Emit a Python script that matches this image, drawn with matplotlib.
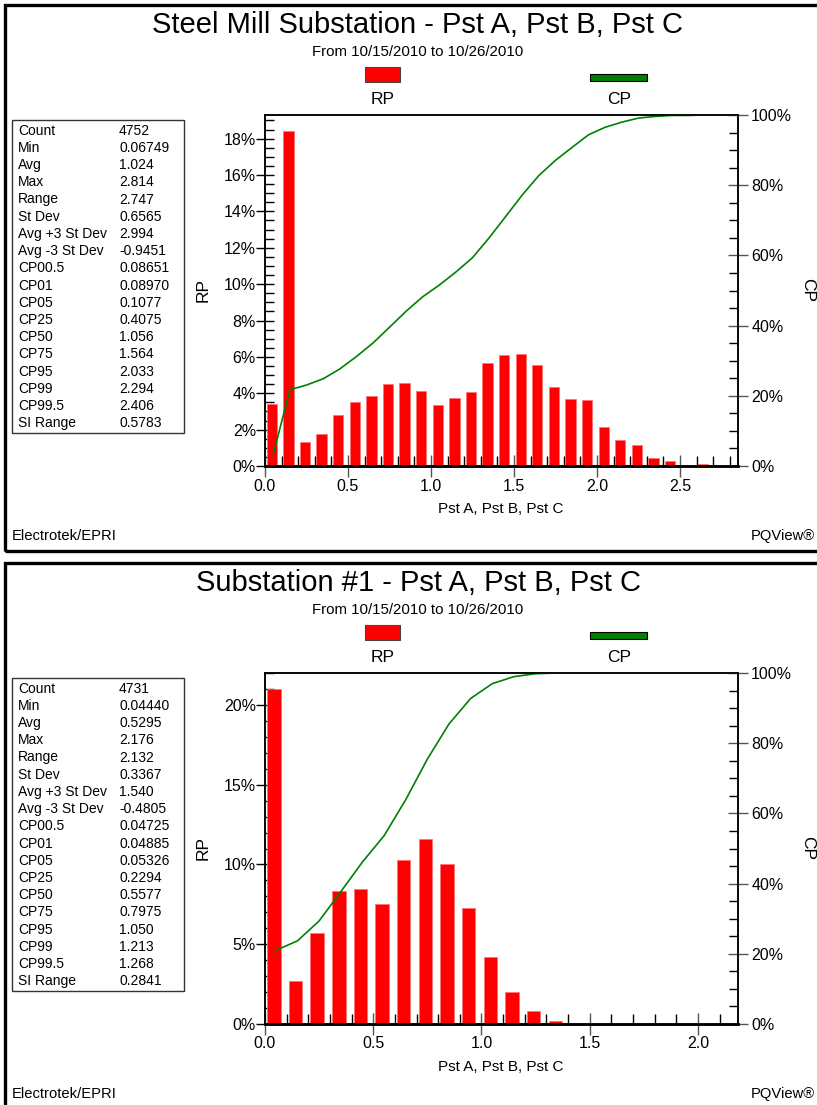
import numpy as np
import matplotlib
matplotlib.use("Agg")
import matplotlib.pyplot as plt
from matplotlib.ticker import MultipleLocator, FuncFormatter
from matplotlib.patches import Rectangle

W, H = 817, 1105
NARROW = ["Liberation Sans Narrow", "Liberation Sans", "DejaVu Sans"]
REGULAR = ["Liberation Sans", "DejaVu Sans"]

stat_names = ["Count", "Min", "Avg", "Max", "Range", "St Dev",
              "Avg +3 St Dev", "Avg -3 St Dev", "CP00.5", "CP01", "CP05",
              "CP25", "CP50", "CP75", "CP95", "CP99", "CP99.5", "SI Range"]

mill_stats = ["4752", "0.06749", "1.024", "2.814", "2.747", "0.6565",
              "2.994", "-0.9451", "0.08651", "0.08970", "0.1077", "0.4075",
              "1.056", "1.564", "2.033", "2.294", "2.406", "0.5783"]
sub1_stats = ["4731", "0.04440", "0.5295", "2.176", "2.132", "0.3367",
              "1.540", "-0.4805", "0.04725", "0.04885", "0.05326", "0.2294",
              "0.5577", "0.7975", "1.050", "1.213", "1.268", "0.2841"]

# relative probability (%) per 0.1-wide Pst bin, starting at 0.0
mill_rp = [3.39, 18.42, 1.34, 1.78, 2.80, 3.54, 3.87, 4.53, 4.58, 4.14,
           3.34, 3.74, 4.09, 5.66, 6.12, 6.16, 5.57, 4.34, 3.70, 3.63,
           2.14, 1.45, 1.17, 0.46, 0.29, 0.0, 0.13, 0.0, 0.0]
sub1_rp = [21.0, 2.72, 5.68, 8.32, 8.48, 7.50, 10.28, 11.58, 10.03, 7.27,
           4.22, 2.01, 0.82, 0.21, 0.0, 0.0, 0.0, 0.0, 0.0, 0.0, 0.0, 0.0]

BIN = 0.1


def fx(x):
    return x / W


def fy(y):
    return 1 - y / H


def pct(v, pos):
    return f"{v:.0f}%"


def draw_panel(fig, dy, title, values, rp, xmax, ymax, ymaj, ymin):
    # frame around the whole report block
    fig.patches.append(Rectangle((fx(5), fy(dy + 551)), 1.2, (546) / H,
                                 transform=fig.transFigure, fill=False,
                                 edgecolor="black", linewidth=2.4))

    fig.text(fx(418), fy(dy + 25), title, ha="center", va="center",
             fontsize=21, family=REGULAR)
    fig.text(fx(418), fy(dy + 52), "From 10/15/2010 to 10/26/2010",
             ha="center", va="center", fontsize=10.8, family=NARROW)

    # legend
    fig.patches.append(Rectangle((fx(365), fy(dy + 82)), 35 / W, 15 / H,
                                 transform=fig.transFigure, facecolor="#ff0000",
                                 edgecolor="#444444", linewidth=0.8))
    fig.patches.append(Rectangle((fx(590), fy(dy + 80.5)), 57 / W, 7 / H,
                                 transform=fig.transFigure, facecolor="#008000",
                                 edgecolor="black", linewidth=0.8))
    fig.text(fx(383), fy(dy + 99), "RP", ha="center", va="center",
             fontsize=12.5, family=NARROW)
    fig.text(fx(619), fy(dy + 99), "CP", ha="center", va="center",
             fontsize=12.5, family=NARROW)

    # statistics table
    fig.patches.append(Rectangle((fx(12), fy(dy + 433)), 172 / W, 313 / H,
                                 transform=fig.transFigure, fill=False,
                                 edgecolor="#333333", linewidth=1.0))
    for i, (name, val) in enumerate(zip(stat_names, values)):
        yy = fy(dy + 130.7 + i * 17.2)
        fig.text(fx(18), yy, name, ha="left", va="center", fontsize=10,
                 family=REGULAR)
        fig.text(fx(119), yy, val, ha="left", va="center", fontsize=10,
                 family=REGULAR)

    ax = fig.add_axes([fx(265), fy(dy + 466), 473 / W, 351 / H])
    ax2 = ax.twinx()

    edges = np.arange(len(rp)) * BIN
    ax.bar(edges + 0.01, rp, width=0.062, align="edge", color="#ff0000",
           edgecolor="#ff7070", linewidth=0.5, zorder=2)

    cp = np.cumsum(rp) / np.sum(rp) * 100
    ax2.plot(edges + BIN / 2, cp, color="#008000", linewidth=1.2)

    ax.set_xlim(0, xmax)
    ax.set_ylim(0, ymax)
    ax2.set_ylim(0, 100)

    ax.xaxis.set_major_locator(MultipleLocator(0.5))
    ax.xaxis.set_minor_locator(MultipleLocator(0.1))
    ax.xaxis.set_major_formatter(FuncFormatter(lambda v, p: f"{v:.1f}"))
    ax.yaxis.set_major_locator(MultipleLocator(ymaj))
    ax.yaxis.set_minor_locator(MultipleLocator(ymin))
    ax.yaxis.set_major_formatter(FuncFormatter(pct))
    ax2.yaxis.set_major_locator(MultipleLocator(20))
    ax2.yaxis.set_minor_locator(MultipleLocator(5))
    ax2.yaxis.set_major_formatter(FuncFormatter(pct))

    ax.tick_params(axis="x", which="major", direction="inout", length=16,
                   width=1, color="#555555", pad=1, labelsize=11.5)
    ax.tick_params(axis="x", which="minor", direction="in", length=7,
                   width=1, color="black")
    ax.tick_params(axis="y", which="major", direction="inout", length=13,
                   width=1, color="black", pad=0, labelsize=11.5)
    ax.tick_params(axis="y", which="minor", direction="in", length=6.5,
                   width=1, color="black")
    ax2.tick_params(axis="y", which="major", direction="inout", length=15,
                    width=1, color="#555555", pad=2, labelsize=11.5)
    ax2.tick_params(axis="y", which="minor", direction="in", length=6.5,
                    width=1, color="black")
    for a in (ax, ax2):
        for lab in a.get_xticklabels() + a.get_yticklabels():
            lab.set_family(NARROW)
        for side in ("left", "right", "top"):
            a.spines[side].set_linewidth(1.1)
        a.spines["bottom"].set_linewidth(1.8)

    fig.text(fx(203), fy(dy + 290), "RP", rotation=90, ha="center",
             va="center", fontsize=12.5, family=NARROW)
    fig.text(fx(808), fy(dy + 290), "CP", rotation=270, ha="center",
             va="center", fontsize=12.5, family=NARROW)
    fig.text(fx(501), fy(dy + 509), "Pst A, Pst B, Pst C", ha="center",
             va="center", fontsize=11, family=NARROW)

    fig.text(fx(12), fy(dy + 536), "Electrotek/EPRI", ha="left",
             va="center", fontsize=10.6, family=NARROW)
    fig.text(fx(815), fy(dy + 536), "PQView\u00ae", ha="right",
             va="center", fontsize=10.6, family=NARROW)


fig = plt.figure(figsize=(W / 100, H / 100), dpi=100)
fig.patch.set_facecolor("white")

draw_panel(fig, 0, "Steel Mill Substation - Pst A, Pst B, Pst C",
           mill_stats, mill_rp, 2.85, 19.3, 2, 0.5)
draw_panel(fig, 558, "Substation #1 - Pst A, Pst B, Pst C",
           sub1_stats, sub1_rp, 2.185, 22.0, 5, 1)

fig.savefig("out.png", dpi=100)
